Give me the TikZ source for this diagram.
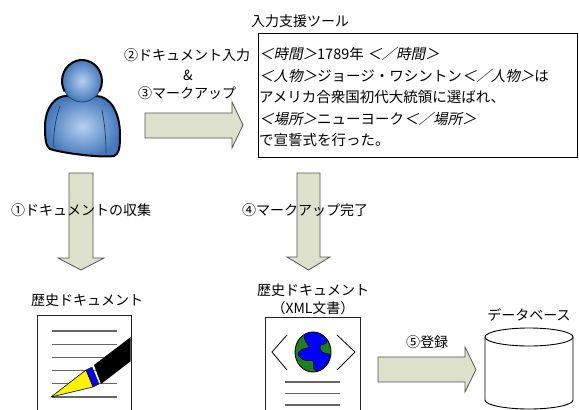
\documentclass[tikz,border=0pt]{standalone}
\usepackage{fontspec}
\setmainfont{Noto Sans CJK JP}
\newfontfamily\tagfont{Noto Sans CJK JP}[FakeSlant=0.22]
\usetikzlibrary{patterns}

\definecolor{arrowfill}{RGB}{221,224,203}
\definecolor{arrowline}{RGB}{85,85,85}
\definecolor{personlight}{RGB}{182,208,238}
\definecolor{persondark}{RGB}{66,120,188}
\definecolor{globegreen}{RGB}{20,140,20}
\newcommand\tg[1]{{\tagfont #1}}

\begin{document}
\begin{tikzpicture}[x=1pt,y=-1pt,
  lbl/.style={font=\fontsize{14}{16}\selectfont, inner sep=0pt},
  body/.style={font=\fontsize{14.5}{16}\selectfont, inner sep=0pt, anchor=west},
  blockarrow/.style={fill=arrowfill, draw=arrowline, line width=0.8pt, line join=miter},
  doc/.style={fill=white, draw=black!85, line width=1pt},
  docline/.style={draw=black!60, line width=1.1pt},
  person/.style={inner color=personlight, outer color=persondark},
]
\useasboundingbox (0,0) rectangle (579,410);
\fill[white] (0,0) rectangle (579,410);

% ---- user figure ----
\shadedraw[person, draw=black, line width=2pt, line join=round]
  (68,96) .. controls (55,95) and (45,108) .. (45,127)
  .. controls (45,140) and (46,146) .. (50,149)
  .. controls (62,153) and (100,158) .. (114,156)
  .. controls (119,154) and (120,148) .. (120,135)
  .. controls (120,112) and (110,96) .. (96,96) -- cycle;
\draw[persondark!50!black, line width=0.7pt] (60,106) .. controls (55,120) and (53,135) .. (54,148);
\draw[persondark!50!black, line width=0.7pt] (102,110) .. controls (105,125) and (106,140) .. (106,153);
\shade[person] (82,81) ellipse [x radius=20, y radius=21];
\draw[line width=2pt] (82,81) ++(150:20 and 21) arc[start angle=150, end angle=390, x radius=20, y radius=21];
\draw[persondark!50!black, line width=0.7pt] (82,81) ++(30:20 and 21) arc[start angle=30, end angle=150, x radius=20, y radius=21];

% ---- block arrows ----
\draw[blockarrow] (145,113) -- (232,113) -- (232,102) -- (243,125) -- (232,148) -- (232,138) -- (145,138) -- cycle;
\draw[blockarrow] (69,173) -- (93,173) -- (93,258) -- (104,258) -- (81,270) -- (58,258) -- (69,258) -- cycle;
\draw[blockarrow] (297,173) -- (320,173) -- (320,257) -- (330,257) -- (308.5,270) -- (287,257) -- (297,257) -- cycle;
\draw[blockarrow] (378,357) -- (465,357) -- (465,347) -- (476,369.5) -- (465,392) -- (465,382) -- (378,382) -- cycle;

% ---- arrow labels ----
\node[lbl] (inputlbl) at (187,55) {②ドキュメント入力};
\node[lbl] (amp) at (188,75) {\&};
\node[lbl] (marklbl) at (187,93) {③マークアップ};
\node[lbl, anchor=west] (collect) at (11,210) {①ドキュメントの収集};
\node[lbl, anchor=west] (done) at (242,210) {④マークアップ完了};
\node[lbl] (reg) at (427,342) {⑤登録};

% ---- input tool ----
\node[lbl] (tooltitle) at (300,21) {入力支援ツール};
\node[draw, line width=0.8pt, anchor=north west, minimum width=319pt, minimum height=124pt, inner sep=0pt] (tool) at (258,33) {};
\node[body] (l1) at (259,54) {\tg{＜時間＞}1789年 \tg{＜／時間＞}};
\node[body] (l2) at (259,75.5) {\tg{＜人物＞}ジョージ・ワシントン\tg{＜／人物＞}は};
\node[body] (l3) at (259,97) {アメリカ合衆国初代大統領に選ばれ、};
\node[body] (l4) at (259,118.5) {\tg{＜場所＞}ニューヨーク\tg{＜／場所＞}};
\node[body] (l5) at (259,140) {で宣誓式を行った。};

% ---- historical document (paper) ----
\node[lbl] (doc1lbl) at (87,300) {歴史ドキュメント};
\draw[doc] (37,315) rectangle (131,412);
\foreach \i in {0,...,5} \draw[docline] (52,331+13.2*\i) -- (117,331+13.2*\i);
\begin{scope}
  \clip (37,315) rectangle (130.5,412);
  \fill[black] (94,365) -- (101,384) -- (140,354) -- (140,330) -- cycle;
\end{scope}
\filldraw[fill=blue, draw=black, line width=0.4pt] (86,370) -- (93,387) -- (99,384) -- (92,367) -- cycle;
\filldraw[fill=yellow, draw=black, line width=0.6pt, line join=round] (51,397) -- (86,370) -- (93,387) -- cycle;

% ---- historical document (XML) ----
\node[lbl] (doc2lbl) at (313,290) {歴史ドキュメント};
\node[lbl] (doc2sub) at (313,308) {（XML文書）};
\draw[doc] (265,317) rectangle (360,412);
\draw[line width=0.8pt] (287,335) -- (272,352) -- (287,370);
\draw[line width=0.8pt] (337,335) -- (355,352) -- (337,370);
\fill[globegreen] (313,352) ellipse [x radius=18, y radius=20];
\fill[pattern=crosshatch dots, pattern color=black!70] (313,352) ellipse [x radius=18, y radius=20];
\begin{scope}
  \clip (313,352) ellipse [x radius=18, y radius=20];
  \filldraw[fill=blue, draw=black, line width=0.5pt] plot[smooth cycle, tension=0.6] coordinates {
    (305,334) (318,331) (327,337) (326,343) (320,346) (322,352) (330,355) (329,363)
    (322,371) (314,369) (313,361) (304,360) (298,354) (303,349) (309,347) (305,340)};
\end{scope}
\draw[line width=0.9pt] (313,352) ellipse [x radius=18, y radius=20];
\foreach \y in {382,393.5,405} \draw[docline] (285,\y) -- (340,\y);

% ---- database ----
\node[lbl] (dblbl) at (529,315) {データベース};
\draw[line width=0.9pt, fill=white] (485,337) -- (485,400) arc[start angle=180, end angle=0, x radius=44, y radius=9] -- (573,337);
\draw[line width=0.9pt, fill=white] (529,337) ellipse [x radius=44, y radius=9];
\end{tikzpicture}
\end{document}
